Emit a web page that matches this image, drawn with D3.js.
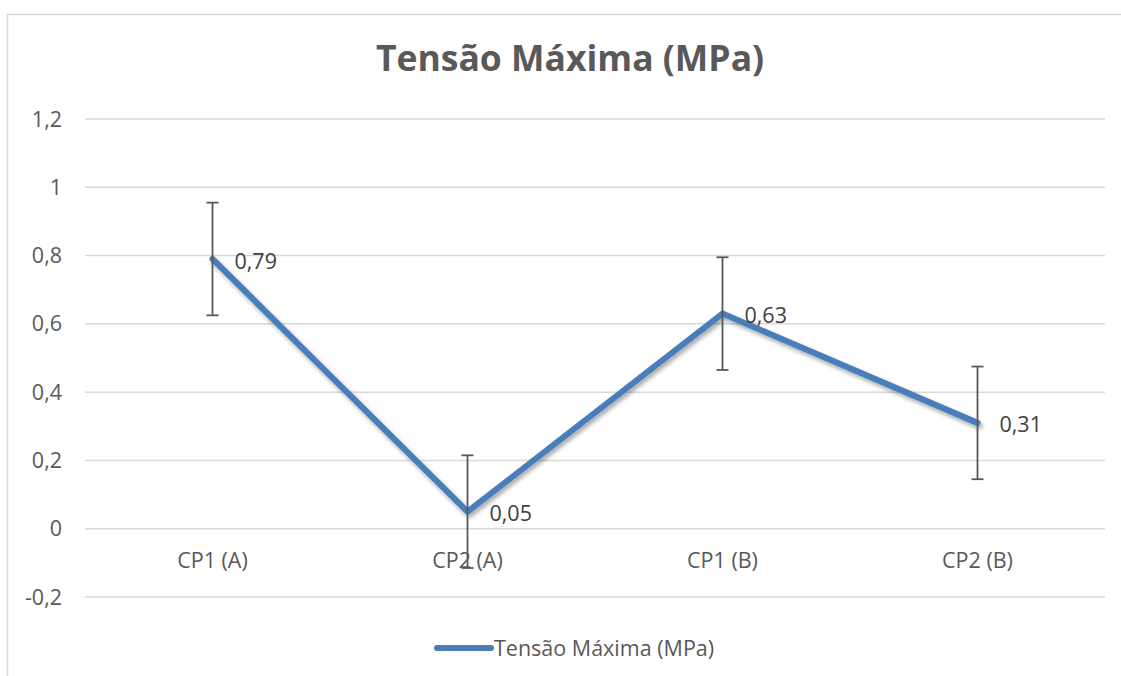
<!DOCTYPE html>
<html>
<head>
<meta charset="utf-8">
<script src="https://cdn.jsdelivr.net/npm/d3@7"></script>
<style>
  html, body { margin: 0; padding: 0; background: #fff; }
  svg { display: block; font-family: "Open Sans", sans-serif; }
</style>
</head>
<body>
<svg id="chart" width="1121" height="676"></svg>
<script>
const categories = ["CP1 (A)", "CP2 (A)", "CP1 (B)", "CP2 (B)"];
const values = [0.79, 0.05, 0.63, 0.31];
const errors = [0.165, 0.165, 0.165, 0.165];
const valueLabels = ["0,79", "0,05", "0,63", "0,31"];
const yTicks = [-0.2, 0, 0.2, 0.4, 0.6, 0.8, 1, 1.2];
const yTickLabels = ["-0,2", "0", "0,2", "0,4", "0,6", "0,8", "1", "1,2"];
const seriesName = "Tensão Máxima (MPa)";
const titleText = "Tensão Máxima (MPa)";

const svg = d3.select("#chart");
const textColor = "#595959";
const gridColor = "#d9d9d9";
const lineColor = "#4a7ebb";
const fs = 21.5;

const defs = svg.append("defs");
const f = defs.append("filter").attr("id", "shadow")
  .attr("x", "-10%").attr("y", "-10%").attr("width", "120%").attr("height", "130%");
f.append("feDropShadow").attr("dx", 2).attr("dy", 3).attr("stdDeviation", 2.2)
  .attr("flood-color", "#000").attr("flood-opacity", 0.35);

// chart border
svg.append("path")
  .attr("d", "M7.5,676 L7.5,14.5 L1121,14.5")
  .attr("fill", "none").attr("stroke", gridColor).attr("stroke-width", 1.5);

const left = 85, right = 1105;
const x = d3.scaleBand().domain(categories).range([left, right]).padding(0);
const y = d3.scaleLinear().domain([-0.2, 1.2]).range([597, 119]);

// gridlines
svg.append("g").selectAll("line").data(yTicks).join("line")
  .attr("x1", left).attr("x2", right)
  .attr("y1", d => y(d)).attr("y2", d => y(d))
  .attr("stroke", gridColor).attr("stroke-width", 1.5);

// y tick labels
svg.append("g").selectAll("text").data(yTicks).join("text")
  .attr("x", 62).attr("y", d => y(d)).attr("dy", "0.35em")
  .attr("text-anchor", "end").attr("font-size", fs).attr("fill", textColor)
  .text((d, i) => yTickLabels[i]);

// category labels
const cx = c => x(c) + x.bandwidth() / 2;
svg.append("g").selectAll("text").data(categories).join("text")
  .attr("x", d => cx(d)).attr("y", 568)
  .attr("text-anchor", "middle").attr("font-size", fs).attr("fill", textColor)
  .text(d => d);

// line
const line = d3.line().x((d, i) => cx(categories[i])).y(d => y(d));
svg.append("path").datum(values)
  .attr("d", line).attr("fill", "none")
  .attr("stroke", lineColor).attr("stroke-width", 6)
  .attr("stroke-linejoin", "round").attr("stroke-linecap", "round")
  .attr("filter", "url(#shadow)");

// error bars
const eb = svg.append("g").attr("stroke", "#595959").attr("stroke-width", 1.8);
values.forEach((v, i) => {
  const xc = cx(categories[i]);
  const yt = y(v + errors[i]), yb = y(v - errors[i]);
  eb.append("line").attr("x1", xc).attr("x2", xc).attr("y1", yt).attr("y2", yb);
  eb.append("line").attr("x1", xc - 6).attr("x2", xc + 6).attr("y1", yt).attr("y2", yt);
  eb.append("line").attr("x1", xc - 6).attr("x2", xc + 6).attr("y1", yb).attr("y2", yb);
});

// data labels
svg.append("g").selectAll("text").data(values).join("text")
  .attr("x", (d, i) => cx(categories[i]) + 22)
  .attr("y", d => y(d) + 2).attr("dy", "0.35em")
  .attr("font-size", fs).attr("fill", "#404040")
  .text((d, i) => valueLabels[i]);

// title
svg.append("text")
  .attr("x", 570).attr("y", 71)
  .attr("text-anchor", "middle").attr("font-size", 35.5).attr("font-weight", "bold")
  .attr("fill", textColor).text(titleText);

// legend
svg.append("line").attr("x1", 437).attr("x2", 491).attr("y1", 648).attr("y2", 648)
  .attr("stroke", lineColor).attr("stroke-width", 6).attr("stroke-linecap", "round");
svg.append("text").attr("x", 494).attr("y", 648).attr("dy", "0.35em")
  .attr("font-size", fs).attr("fill", textColor).text(seriesName);
</script>
</body>
</html>
